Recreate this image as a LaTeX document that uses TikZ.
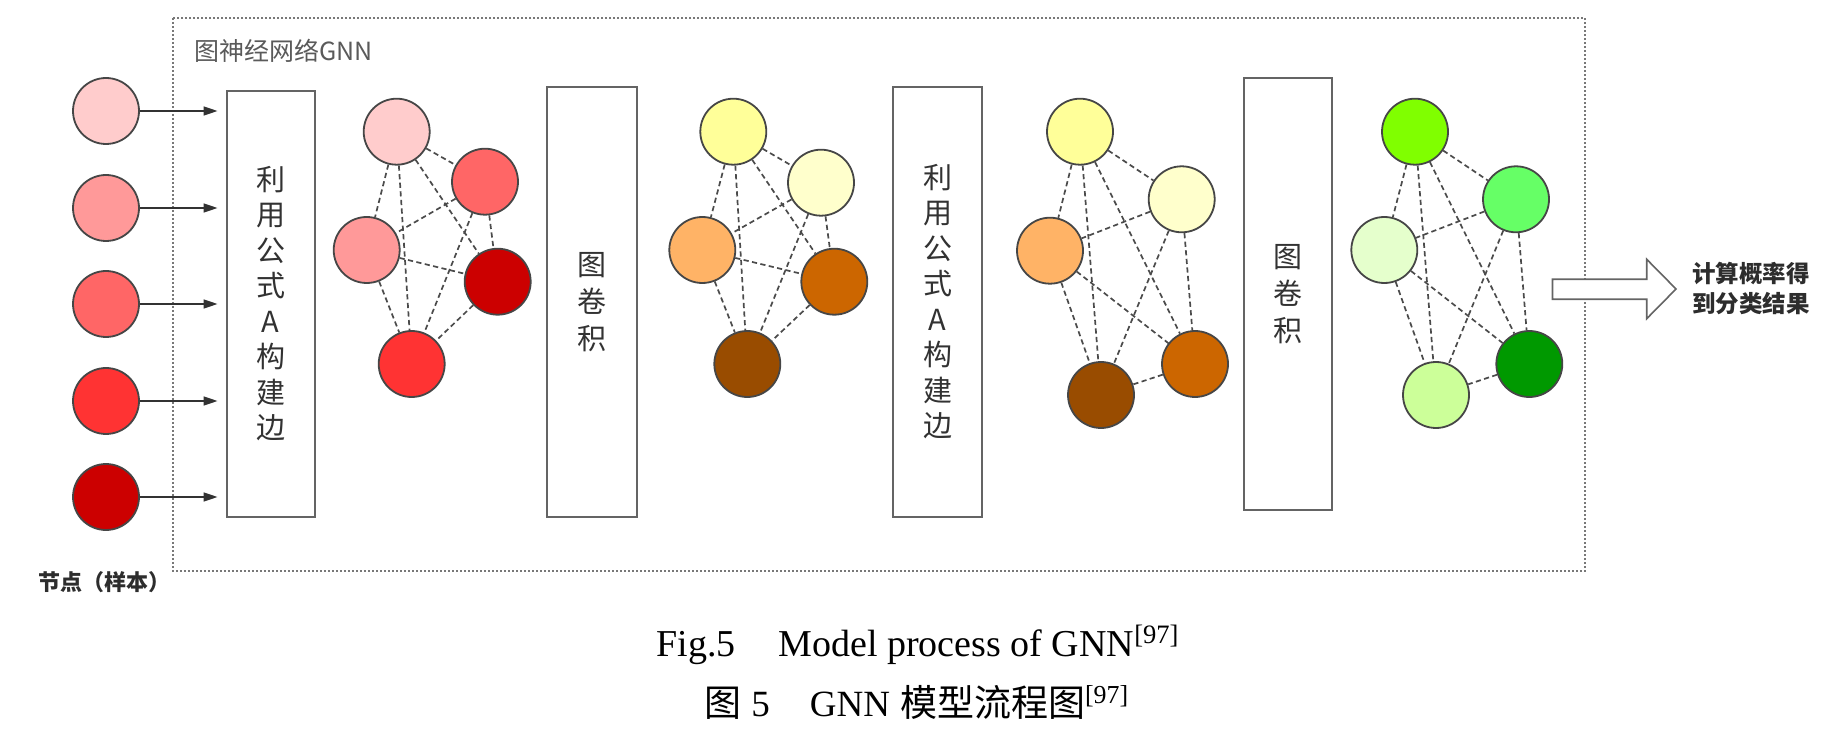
\documentclass[tikz,border=0pt]{standalone}
\usepackage{fontspec}
\setmainfont{Liberation Serif}
\newfontfamily\cjk{Noto Sans CJK SC}
\usetikzlibrary{arrows.meta}
\definecolor{ndline}{RGB}{70,70,70}
\definecolor{edgecol}{RGB}{75,75,75}
\definecolor{boxline}{RGB}{100,100,100}
\definecolor{boxtext}{RGB}{50,50,50}
\definecolor{titlecol}{RGB}{90,90,90}
\definecolor{labcol}{RGB}{45,45,45}
\definecolor{framecol}{RGB}{120,120,120}
\definecolor{arrowcol}{RGB}{50,50,50}
\tikzset{
  nd/.style={circle, draw=ndline, line width=0.9pt, minimum size=33pt, inner sep=0pt},
  gedge/.style={draw=edgecol, dash pattern=on 2.6pt off 1.7pt, line width=0.85pt},
  procbox/.style={draw=boxline, line width=1.1pt, fill=white, inner sep=0pt, align=center,
    font=\cjk\fontsize{14.5}{17.75}\selectfont, text=boxtext},
  inarrow/.style={draw=arrowcol, line width=0.8pt, -{Triangle[length=7pt,width=4.5pt]}},
  boldlab/.style={font=\cjk\bfseries, text=labcol},
}
\begin{document}
\begin{tikzpicture}[x=0.5pt,y=-0.5pt]
\useasboundingbox (0,0) rectangle (1841,732);
% dotted frame
\draw[draw=framecol, line width=0.7pt, dash pattern=on 0.8pt off 1.2pt] (173,18) rectangle (1585,571);
\node[anchor=west, font=\cjk\fontsize{12.5}{14}\selectfont, text=titlecol] (title) at (187,51) {图神经网络GNN};

% input nodes
\node[nd, fill={rgb,255:red,255;green,204;blue,204}] (n1) at (106,111) {};
\node[nd, fill={rgb,255:red,255;green,153;blue,153}] (n2) at (106,208) {};
\node[nd, fill={rgb,255:red,255;green,102;blue,102}] (n3) at (106,304) {};
\node[nd, fill={rgb,255:red,255;green,51;blue,51}] (n4) at (106,401) {};
\node[nd, fill={rgb,255:red,204;green,0;blue,0}] (n5) at (106,497) {};
\node[boldlab, font=\cjk\bfseries\fontsize{11}{12}\selectfont] (lab) at (105,582) {节点（样本）};

% boxes
\node[procbox, minimum width=44.15pt, minimum height=213pt] (b1) at (270.8,303.7) {利\\用\\公\\式\\A\\构\\建\\边};
\node[procbox, minimum width=45pt, minimum height=215pt, font=\cjk\fontsize{14.5}{18.5}\selectfont] (b2) at (591.7,301.7) {图\\卷\\积};
\node[procbox, minimum width=44.2pt, minimum height=215pt] (b3) at (937.5,301.7) {利\\用\\公\\式\\A\\构\\建\\边};
\node[procbox, minimum width=44.15pt, minimum height=215.85pt, font=\cjk\fontsize{14.5}{18.5}\selectfont] (b4) at (1288.2,294.2) {图\\卷\\积};

\foreach \i in {1,...,5}
  \draw[inarrow, shorten >=4pt] (n\i) -- (n\i -| b1.west);

% graph 1
\node[nd, fill={rgb,255:red,255;green,204;blue,204}] (g1A) at (396.7,131.7) {};
\node[nd, fill={rgb,255:red,255;green,102;blue,102}] (g1B) at (485,181.7) {};
\node[nd, fill={rgb,255:red,255;green,153;blue,153}] (g1C) at (366.7,250) {};
\node[nd, fill={rgb,255:red,204;green,0;blue,0}] (g1D) at (497.7,281.7) {};
\node[nd, fill={rgb,255:red,255;green,51;blue,51}] (g1E) at (411.7,364) {};
% graph 2
\node[nd, fill={rgb,255:red,255;green,255;blue,153}] (g2A) at (733.3,131.7) {};
\node[nd, fill={rgb,255:red,255;green,255;blue,204}] (g2B) at (821,182.7) {};
\node[nd, fill={rgb,255:red,255;green,179;blue,102}] (g2C) at (702.3,250) {};
\node[nd, fill={rgb,255:red,204;green,102;blue,0}] (g2D) at (834.3,281.7) {};
\node[nd, fill={rgb,255:red,153;green,76;blue,0}] (g2E) at (747.3,364) {};
% graph 3
\node[nd, fill={rgb,255:red,255;green,255;blue,153}] (g3A) at (1080,131.7) {};
\node[nd, fill={rgb,255:red,255;green,255;blue,204}] (g3B) at (1181.7,199.3) {};
\node[nd, fill={rgb,255:red,255;green,179;blue,102}] (g3C) at (1050,250.7) {};
\node[nd, fill={rgb,255:red,204;green,102;blue,0}] (g3D) at (1195,364) {};
\node[nd, fill={rgb,255:red,153;green,76;blue,0}] (g3E) at (1101,395) {};
% graph 4
\node[nd, fill={rgb,255:red,128;green,255;blue,0}] (g4A) at (1415,131.7) {};
\node[nd, fill={rgb,255:red,102;green,255;blue,102}] (g4B) at (1516,199.3) {};
\node[nd, fill={rgb,255:red,229;green,255;blue,204}] (g4C) at (1384.3,250) {};
\node[nd, fill={rgb,255:red,0;green,153;blue,0}] (g4D) at (1529.3,364) {};
\node[nd, fill={rgb,255:red,204;green,255;blue,153}] (g4E) at (1436,395) {};

\foreach \g in {1,2,3,4}
  \foreach \u/\v in {A/B,A/C,A/D,A/E,B/C,B/D,B/E,C/D,C/E,D/E}
    \draw[gedge] (g\g\u) -- (g\g\v);

% output arrow
\draw[draw=boxline, fill=white, line width=0.8pt, line join=miter]
  (1552.5,279.3) -- (1646.7,279.3) -- (1646.7,259.3) -- (1676,289) -- (1646.7,318.7)
  -- (1646.7,299.3) -- (1552.5,299.3) -- cycle;
\node[anchor=west, align=left, font=\cjk\bfseries\fontsize{11.75}{15}\selectfont, text=labcol] (res) at (1685,288.3) {计算概率得\\到分类结果};

% caption
\node[anchor=base west, inner sep=0pt, font=\fontsize{19}{22}\selectfont] (cap1) at (656,656)
  {Fig.5\hspace{21.5pt}Model process of GNN\textsuperscript{[97]}};
\node[anchor=base west, inner sep=0pt, font=\fontsize{18.5}{22}\selectfont] (cap2) at (704,716)
  {{\cjk 图}\hspace{5pt}5\hspace{20pt}GNN\hspace{5pt}{\cjk 模型流程图}\textsuperscript{[97]}};
\end{tikzpicture}
\end{document}
